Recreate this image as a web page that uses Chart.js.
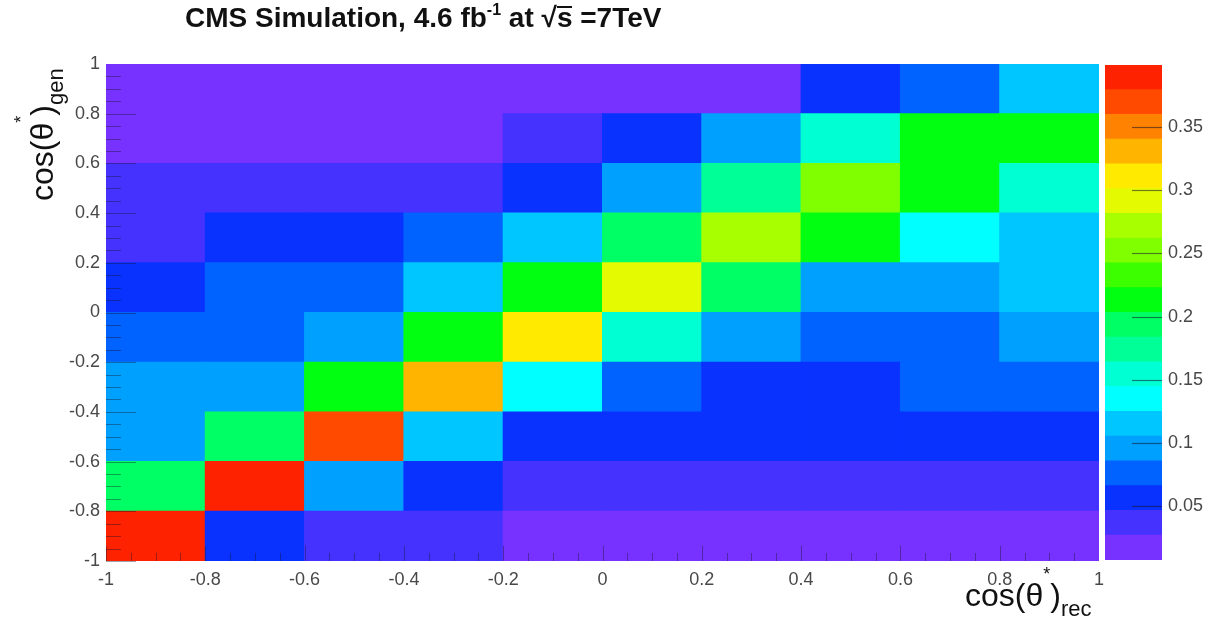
<!DOCTYPE html>
<html>
<head>
<meta charset="utf-8">
<script src="https://cdn.jsdelivr.net/npm/chart.js@4.4.0/dist/chart.umd.min.js"></script>
<style>
html,body{margin:0;padding:0;background:#fff;width:1211px;height:624px;overflow:hidden;}
#wrap{position:relative;width:1211px;height:624px;font-family:"Liberation Sans",Arial,Helvetica,sans-serif;}
#main{position:absolute;left:0;top:0;}
#cbar{position:absolute;left:1100px;top:0;}
.lbl{position:absolute;white-space:nowrap;color:#111;line-height:1;}
#title{left:185px;top:4px;font-size:28px;font-weight:bold;}
#title .tsup{font-size:16px;position:relative;top:-12px;}
#title .ov{display:inline-block;line-height:20px;border-top:2px solid #111;}
#ytitle{left:26px;top:201px;font-size:32px;transform-origin:0 0;transform:rotate(-90deg);}
#xtitle{left:965px;top:579px;font-size:32px;}
.star{font-size:18px;position:relative;top:-26px;}
.sub{font-size:22px;position:relative;top:10px;}
</style>
</head>
<body>
<div id="wrap">
  <canvas id="main" width="1211" height="624"></canvas>
  <canvas id="cbar" width="111" height="624"></canvas>
  <div id="title" class="lbl">CMS Simulation, 4.6 fb<span class="tsup">-1</span> at √<span class="ov">s</span> =7TeV</div>
  <div id="ytitle" class="lbl">cos(θ<span class="star">*</span>)<span class="sub">gen</span></div>
  <div id="xtitle" class="lbl">cos(θ<span class="star">*</span>)<span class="sub">rec</span></div>
</div>
<script>
// ---- bin edges (cos(theta*)_rec on x, cos(theta*)_gen on y) ----
const xEdges = [-1, -0.8, -0.6, -0.4, -0.2, 0, 0.2, 0.4, 0.6, 0.8, 1];
const yEdges = [-1, -0.8, -0.6, -0.4, -0.2, 0, 0.2, 0.4, 0.6, 0.8, 1];

// ---- bin contents, one array per gen row (values along rec bins -1..1) ----
const gen_m09 = [0.395, 0.056, 0.037, 0.037, 0.017, 0.017, 0.017, 0.017, 0.017, 0.017];
const gen_m07 = [0.194, 0.390, 0.096, 0.056, 0.037, 0.037, 0.037, 0.037, 0.037, 0.037];
const gen_m05 = [0.096, 0.194, 0.370, 0.115, 0.056, 0.056, 0.056, 0.056, 0.056, 0.056];
const gen_m03 = [0.096, 0.096, 0.213, 0.331, 0.135, 0.076, 0.056, 0.056, 0.076, 0.076];
const gen_m01 = [0.076, 0.076, 0.096, 0.213, 0.311, 0.154, 0.096, 0.076, 0.076, 0.096];
const gen_p01 = [0.056, 0.076, 0.076, 0.115, 0.213, 0.291, 0.194, 0.096, 0.096, 0.115];
const gen_p03 = [0.037, 0.056, 0.056, 0.076, 0.115, 0.194, 0.272, 0.213, 0.135, 0.115];
const gen_p05 = [0.037, 0.037, 0.037, 0.037, 0.056, 0.096, 0.174, 0.252, 0.213, 0.154];
const gen_p07 = [0.017, 0.017, 0.017, 0.017, 0.037, 0.056, 0.096, 0.154, 0.213, 0.213];
const gen_p09 = [0.017, 0.017, 0.017, 0.017, 0.017, 0.017, 0.017, 0.056, 0.076, 0.115];
const genRows = [gen_m09, gen_m07, gen_m05, gen_m03, gen_m01, gen_p01, gen_p03, gen_p05, gen_p07, gen_p09];

// ---- tick labels ----
const axisTicks = [-1, -0.8, -0.6, -0.4, -0.2, 0, 0.2, 0.4, 0.6, 0.8, 1];
const zTicks = [0.05, 0.1, 0.15, 0.2, 0.25, 0.3, 0.35];

// ---- colour scale (ROOT-like rainbow palette, 20 contours) ----
const zMin = 0.0074, zMax = 0.399, nContours = 20;
const paletteColors = [
  '#7832ff', '#4632ff', '#0a32ff', '#0062ff', '#00a0ff',
  '#00c6ff', '#00ffff', '#00ffd2', '#00ff96', '#00ff64',
  '#00ff10', '#3cff00', '#80ff00', '#a8ff00', '#e4fa00',
  '#ffea00', '#ffb400', '#ff8200', '#ff4a00', '#ff2200'
];
const dz = (zMax - zMin) / nContours;
const levels = paletteColors.map((c, k) => zMin + k * dz).concat([zMax]);
function colorFor(v) {
  let k = Math.floor((v - zMin) / dz);
  k = Math.max(0, Math.min(nContours - 1, k));
  return paletteColors[k];
}

const tickFont = {family: '"Liberation Sans", Arial, Helvetica, sans-serif', size: 18};
const tickColor = '#484848';
const fmt = v => String(Math.round(v * 100) / 100);

// inner tick marks (ROOT style) drawn from the library scales
const innerTicks = {
  id: 'innerTicks',
  afterDatasetsDraw(chart) {
    const {ctx, chartArea: a, scales} = chart;
    ctx.save();
    ctx.strokeStyle = 'rgba(20,20,40,0.4)';
    ctx.lineWidth = 1;
    for (let i = 0; i < axisTicks.length - 1; i++) {
      const lo = axisTicks[i], hi = axisTicks[i + 1];
      for (let j = 0; j < 4; j++) {
        const v = lo + (hi - lo) * j / 4;
        const major = j === 0;
        const py = Math.round(scales.y.getPixelForValue(v)) + 0.5;
        ctx.beginPath(); ctx.moveTo(a.left, py); ctx.lineTo(a.left + (major ? 30 : 15), py); ctx.stroke();
        const px = Math.round(scales.x.getPixelForValue(v)) + 0.5;
        ctx.beginPath(); ctx.moveTo(px, a.bottom); ctx.lineTo(px, a.bottom - (major ? 15 : 8)); ctx.stroke();
      }
    }
    ctx.restore();
  }
};

const cells = genRows.map((row, j) => ({
  data: row.map((v, i) => ({x: (xEdges[i] + xEdges[i + 1]) / 2, y: [yEdges[j], yEdges[j + 1]]})),
  backgroundColor: row.map(colorFor),
  borderWidth: 0,
  grouped: false,
  barPercentage: 1,
  categoryPercentage: 1,
  inflateAmount: 0.5
}));

new Chart(document.getElementById('main'), {
  type: 'bar',
  data: {datasets: cells},
  options: {
    responsive: false,
    animation: false,
    events: [],
    layout: {padding: {left: 0, right: 112, top: 64, bottom: 0}},
    plugins: {legend: {display: false}, tooltip: {enabled: false}},
    scales: {
      x: {
        type: 'linear', min: -1, max: 1, offset: false,
        afterBuildTicks(s) { s.ticks = axisTicks.map(v => ({value: v})); },
        afterFit(s) { s.height = 63; },
        grid: {display: false, drawTicks: false, offset: false},
        border: {display: false},
        ticks: {padding: 8, font: tickFont, color: tickColor, maxRotation: 0, autoSkip: false, callback: fmt}
      },
      y: {
        type: 'linear', min: -1, max: 1,
        afterBuildTicks(s) { s.ticks = axisTicks.map(v => ({value: v})); },
        afterFit(s) { s.width = 106; },
        grid: {display: false, drawTicks: false},
        border: {display: false},
        ticks: {padding: 6, font: tickFont, color: tickColor, autoSkip: false, callback: fmt}
      }
    }
  },
  plugins: [innerTicks]
});

// ---- colour bar ----
const cbTicks = {
  id: 'cbTicks',
  afterDatasetsDraw(chart) {
    const {ctx, chartArea: a, scales} = chart;
    ctx.save();
    ctx.strokeStyle = 'rgba(20,20,40,0.55)';
    ctx.lineWidth = 1.2;
    zTicks.forEach(v => {
      const py = Math.round(scales.y.getPixelForValue(v)) + 0.5;
      ctx.beginPath(); ctx.moveTo(a.right - 30, py); ctx.lineTo(a.right, py); ctx.stroke();
    });
    ctx.restore();
  }
};

new Chart(document.getElementById('cbar'), {
  type: 'bar',
  data: {
    labels: [''],
    datasets: paletteColors.map((c, k) => ({
      data: [[levels[k], levels[k + 1]]],
      backgroundColor: c,
      borderWidth: 0,
      grouped: false,
      barPercentage: 1,
      categoryPercentage: 1,
      inflateAmount: 0.5
    }))
  },
  options: {
    responsive: false,
    animation: false,
    events: [],
    layout: {padding: {left: 5, right: 0, top: 65, bottom: 64}},
    plugins: {legend: {display: false}, tooltip: {enabled: false}},
    scales: {
      x: {display: false},
      y: {
        position: 'right', min: zMin, max: zMax,
        afterBuildTicks(s) { s.ticks = zTicks.map(v => ({value: v})); },
        afterFit(s) { s.width = 49; },
        grid: {display: false, drawTicks: false},
        border: {display: false},
        ticks: {padding: 6, font: tickFont, color: tickColor, autoSkip: false, callback: fmt}
      }
    }
  },
  plugins: [cbTicks]
});
</script>
</body>
</html>
